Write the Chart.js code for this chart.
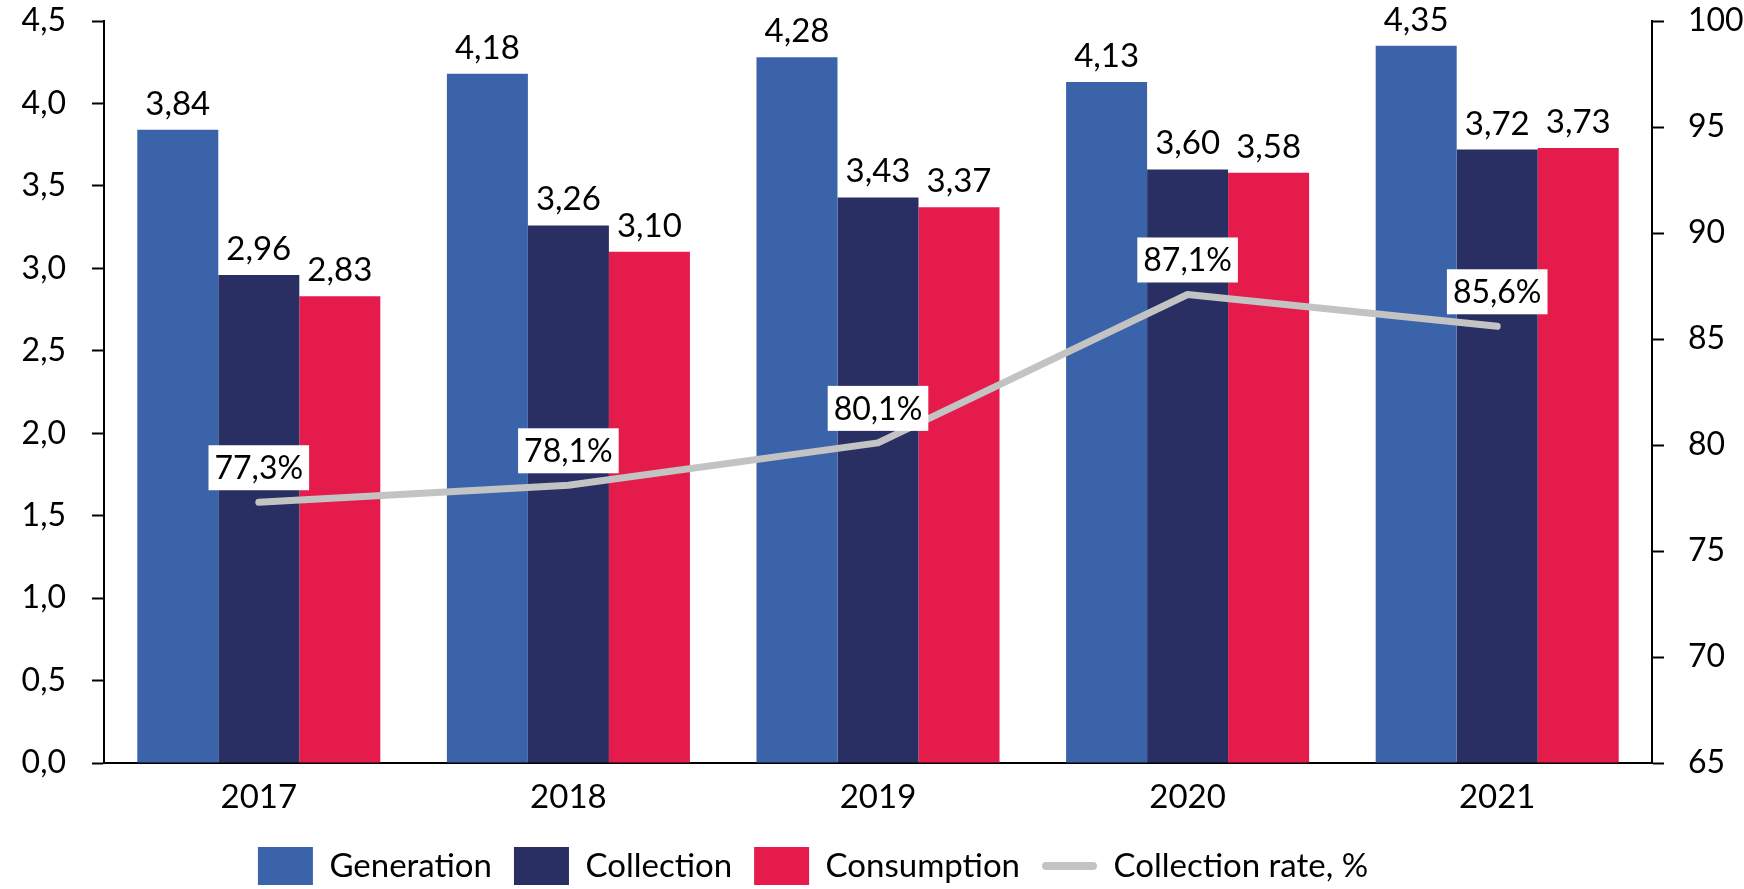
<!DOCTYPE html>
<html>
<head>
<meta charset="utf-8">
<script src="https://cdn.jsdelivr.net/npm/chart.js@4"></script>
<style>
  html, body { margin: 0; padding: 0; background: #fff; }
  #wrap { width: 1744px; height: 889px; }
</style>
</head>
<body>
<div id="wrap"><canvas id="chart" width="1744" height="889"></canvas></div>
<script>
(function() {
  'use strict';

  // ── Data ──
  const years = ['2017', '2018', '2019', '2020', '2021'];
  const generation = [3.84, 4.18, 4.28, 4.13, 4.35];
  const collection = [2.96, 3.26, 3.43, 3.60, 3.72];
  const consumption = [2.83, 3.10, 3.37, 3.58, 3.73];
  const collectionRate = [77.3, 78.1, 80.1, 87.1, 85.6];

  const FONT = 'Lato';
  const comma = function(v, d) { return v.toFixed(d).replace('.', ','); };

  // ── Value labels on bars and line ──
  const valueLabels = {
    id: 'valueLabels',
    afterDatasetsDraw: function(chart) {
      const ctx = chart.ctx;
      ctx.save();
      ctx.textAlign = 'center';
      chart.data.datasets.forEach(function(ds, i) {
        const meta = chart.getDatasetMeta(i);
        meta.data.forEach(function(el, j) {
          const v = ds.data[j];
          if (ds.type === 'line') {
            const text = comma(v, 1) + '%';
            ctx.font = '32px ' + FONT;
            const w = ctx.measureText(text).width + 12;
            const h = 45;
            const bx = el.x - w / 2, by = el.y - 12 - h;
            ctx.fillStyle = '#fff';
            ctx.fillRect(bx, by, w, h);
            ctx.fillStyle = '#000';
            ctx.textBaseline = 'middle';
            ctx.fillText(text, el.x, by + h / 2 + 1);
          } else {
            ctx.font = '33px ' + FONT;
            ctx.fillStyle = '#000';
            ctx.textBaseline = 'alphabetic';
            ctx.fillText(comma(v, 2), el.x, el.y - 15);
          }
        });
      });
      ctx.restore();
    }
  };

  // ── Legend: rounded line sample for the rate series, shifted row ──
  const legendTweaks = {
    id: 'legendTweaks',
    afterLayout: function(chart) {
      const lg = chart.legend;
      if (lg) { lg.left -= 59; lg.right -= 59; }
    },
    afterDraw: function(chart) {
      const lg = chart.legend;
      if (!lg || !lg.legendHitBoxes) return;
      const ctx = chart.ctx;
      lg.legendItems.forEach(function(item, i) {
        if (!item.isLine) return;
        const hb = lg.legendHitBoxes[i];
        const y = hb.top + hb.height / 2;
        ctx.save();
        ctx.strokeStyle = item.lineColor;
        ctx.lineWidth = 8;
        ctx.lineCap = 'round';
        ctx.beginPath();
        ctx.moveTo(hb.left + 4, y);
        ctx.lineTo(hb.left + 51, y);
        ctx.stroke();
        ctx.restore();
      });
    }
  };

  const axisColor = '#000';

  // fixed axis widths, no extra label overhang at the ends
  function fitSide(width) {
    return function(s) {
      s.width = width;
      s.paddingTop = 0;
      s.paddingBottom = 0;
    };
  }

  new Chart(document.getElementById('chart'), {
    type: 'bar',
    data: {
      labels: years,
      datasets: [
        { label: 'Generation', data: generation, backgroundColor: '#3B63AA', order: 1, yAxisID: 'y' },
        { label: 'Collection', data: collection, backgroundColor: '#2A2F63', order: 1, yAxisID: 'y' },
        { label: 'Consumption', data: consumption, backgroundColor: '#E51B4B', order: 1, yAxisID: 'y' },
        {
          type: 'line', label: 'Collection rate, %', data: collectionRate, yAxisID: 'y1', order: 0,
          borderColor: '#C2C3C2', backgroundColor: '#C2C3C2', borderWidth: 7,
          borderCapStyle: 'round', borderJoinStyle: 'round', pointRadius: 0, tension: 0
        }
      ]
    },
    options: {
      responsive: false,
      animation: false,
      layout: { padding: { top: 21, left: 0, right: 0, bottom: -6 } },
      datasets: { bar: { barPercentage: 1.0, categoryPercentage: 0.785 } },
      plugins: {
        tooltip: { enabled: false },
        legend: {
          position: 'bottom',
          labels: {
            font: { family: FONT, size: 33 },
            color: '#000',
            boxWidth: 55,
            boxHeight: 38,
            padding: 22,
            sort: function(a, b) { return a.datasetIndex - b.datasetIndex; },
            generateLabels: function(chart) {
              const items = Chart.defaults.plugins.legend.labels.generateLabels(chart);
              items.forEach(function(it) {
                const ds = chart.data.datasets[it.datasetIndex];
                it.lineWidth = 0;
                if (ds.type === 'line') {
                  it.isLine = true;
                  it.lineColor = ds.borderColor;
                  it.fillStyle = 'rgba(0,0,0,0)';
                  it.strokeStyle = 'rgba(0,0,0,0)';
                }
              });
              return items;
            }
          }
        }
      },
      scales: {
        x: {
          grid: { display: false, drawTicks: false },
          border: { display: true, color: axisColor, width: 2 },
          ticks: { font: { family: FONT, size: 33 }, color: '#000', padding: 15 },
          afterFit: function(s) { s.height = 62; }
        },
        y: {
          position: 'left',
          min: 0, max: 4.5,
          grid: { drawOnChartArea: false, drawTicks: true, tickLength: 12, color: axisColor, tickWidth: 2 },
          border: { display: true, color: axisColor, width: 2 },
          ticks: {
            stepSize: 0.5,
            font: { family: FONT, size: 32 }, color: '#000', padding: 26,
            callback: function(v) { return comma(v, 1); }
          },
          afterFit: fitSide(104)
        },
        y1: {
          position: 'right',
          min: 65, max: 100,
          grid: { drawOnChartArea: false, drawTicks: true, tickLength: 12, color: axisColor, tickWidth: 2 },
          border: { display: true, color: axisColor, width: 2 },
          ticks: {
            stepSize: 5,
            font: { family: FONT, size: 32 }, color: '#000', padding: 24
          },
          afterFit: fitSide(92)
        }
      }
    },
    plugins: [valueLabels, legendTweaks]
  });
})();
</script>
</body>
</html>
